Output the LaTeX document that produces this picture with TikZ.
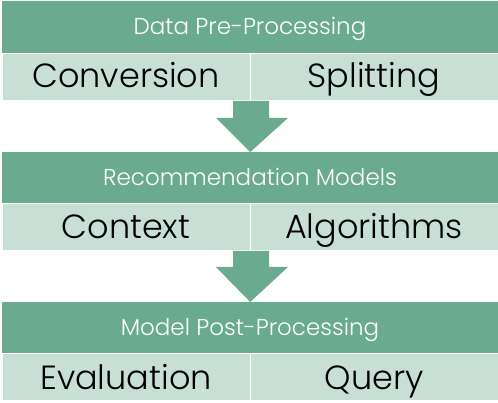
\documentclass[tikz,border=0pt]{standalone}
\usepackage{fontspec}
\setmainfont{Poppins Light}
\usetikzlibrary{calc}
\definecolor{dgreen}{HTML}{6AAB8F}
\definecolor{lgreen}{HTML}{C8DFD5}
\begin{document}
\begin{tikzpicture}[x=1pt,y=-1pt,
  header/.style={fill=dgreen,draw=none,minimum width=496pt,minimum height=52pt,inner sep=0pt,anchor=north west},
  cell/.style={fill=lgreen,draw=white,line width=1pt,minimum width=248pt,minimum height=47pt,inner sep=0pt,anchor=north west},
  htext/.style={text=white,font=\fontsize{23}{23}\selectfont,anchor=base,inner sep=0pt},
  ctext/.style={text=black,font=\fontsize{33.5}{33.5}\selectfont,anchor=base,inner sep=0pt},
  blockarrow/.style={fill=dgreen,draw=none}]
\useasboundingbox (0,0) rectangle (498,403);
% block 1
\node[header] (h1) at (2,1) {};
\node[cell] (c1a) at (2,53) {};
\node[cell] (c1b) at (250,53) {};
\node[htext] (t1) at (250,35) {Data Pre-Processing};
\node[ctext] (t1a) at (126,88) {Conversion};
\node[ctext] (t1b) at (374,88) {Splitting};
% block 2
\node[header] (h2) at (2,152) {};
\node[cell] (c2a) at (2,203) {};
\node[cell] (c2b) at (250,203) {};
\node[htext] (t2) at (250,186) {Recommendation Models};
\node[ctext] (t2a) at (126,239) {Context};
\node[ctext] (t2b) at (374,239) {Algorithms};
% block 3
\node[header] (h3) at (2,302) {};
\node[cell] (c3a) at (2,353) {};
\node[cell] (c3b) at (250,353) {};
\node[htext] (t3) at (250,336) {Model Post-Processing};
\node[ctext] (t3a) at (126,389) {Evaluation};
\node[ctext] (t3b) at (374,389) {Query};
% arrows
\fill[blockarrow] ($(c1a.south east)+(-18,0)$) -- ++(36,0) -- ++(0,17) -- ++(19,0)
  -- ($(h2.north)+(0,0)$) -- ($(c1a.south east)+(-35,17)$) -- ++(17,0) -- cycle;
\fill[blockarrow] ($(c2a.south east)+(-18,0)$) -- ++(36,0) -- ++(0,16) -- ++(19,0)
  -- ($(h3.north)+(0,0)$) -- ($(c2a.south east)+(-35,16)$) -- ++(17,0) -- cycle;
\end{tikzpicture}
\end{document}
